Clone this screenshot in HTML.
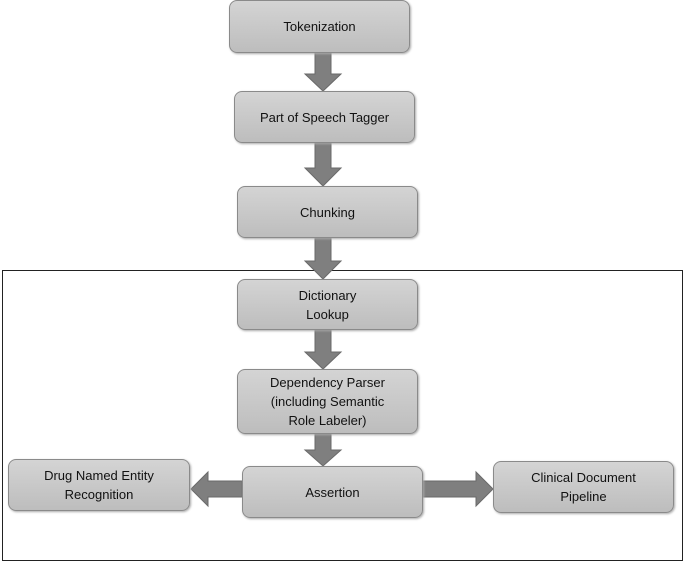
<!DOCTYPE html>
<html><head><style>
body{margin:0;width:685px;height:563px;background:#fff;position:relative;overflow:hidden;font-family:"Liberation Sans",sans-serif}
.b{position:absolute;box-sizing:border-box;border:1.5px solid #8a8a8a;border-radius:8px;background:linear-gradient(#d4d4d4,#bdbdbd);display:flex;align-items:center;justify-content:center;text-align:center;font-size:13px;color:#111;line-height:19px;box-shadow:1px 1px 2px #aaa}
.o{position:absolute;left:2px;top:270px;width:681px;height:291px;border:1.5px solid #222;box-sizing:border-box}
</style></head><body>
<div class="o"></div>
<svg width="685" height="563" style="position:absolute;left:0;top:0">
<g fill="#7f7f7f" stroke="#6a6a6a" stroke-width="1">
<polygon points="315,52 331,52 331,74 341,74 323,91 305,74 315,74"/>
<polygon points="315,143 331,143 331,168 341,168 323,186 305,168 315,168"/>
<polygon points="315,238 331,238 331,261 341,261 323,279 305,261 315,261"/>
<polygon points="315,330 331,330 331,352 341,352 323,369 305,352 315,352"/>
<polygon points="315,434 331,434 331,450 341,450 323,466 305,450 315,450"/>
<polygon points="242,481 208,481 208,472 191,489 208,506 208,497 242,497"/>
<polygon points="423,481 476,481 476,472 493,489 476,506 476,497 423,497"/>
</g></svg>
<div class="b" style="left:229px;top:0;width:181px;height:53px">Tokenization</div>
<div class="b" style="left:234px;top:91px;width:181px;height:52px">Part of Speech Tagger</div>
<div class="b" style="left:237px;top:186px;width:181px;height:52px">Chunking</div>
<div class="b" style="left:237px;top:279px;width:181px;height:51px">Dictionary<br>Lookup</div>
<div class="b" style="left:237px;top:369px;width:181px;height:65px">Dependency Parser<br>(including Semantic<br>Role Labeler)</div>
<div class="b" style="left:242px;top:466px;width:181px;height:52px">Assertion</div>
<div class="b" style="left:8px;top:459px;width:182px;height:52px">Drug Named Entity<br>Recognition</div>
<div class="b" style="left:493px;top:461px;width:181px;height:52px">Clinical Document<br>Pipeline</div>
</body></html>
